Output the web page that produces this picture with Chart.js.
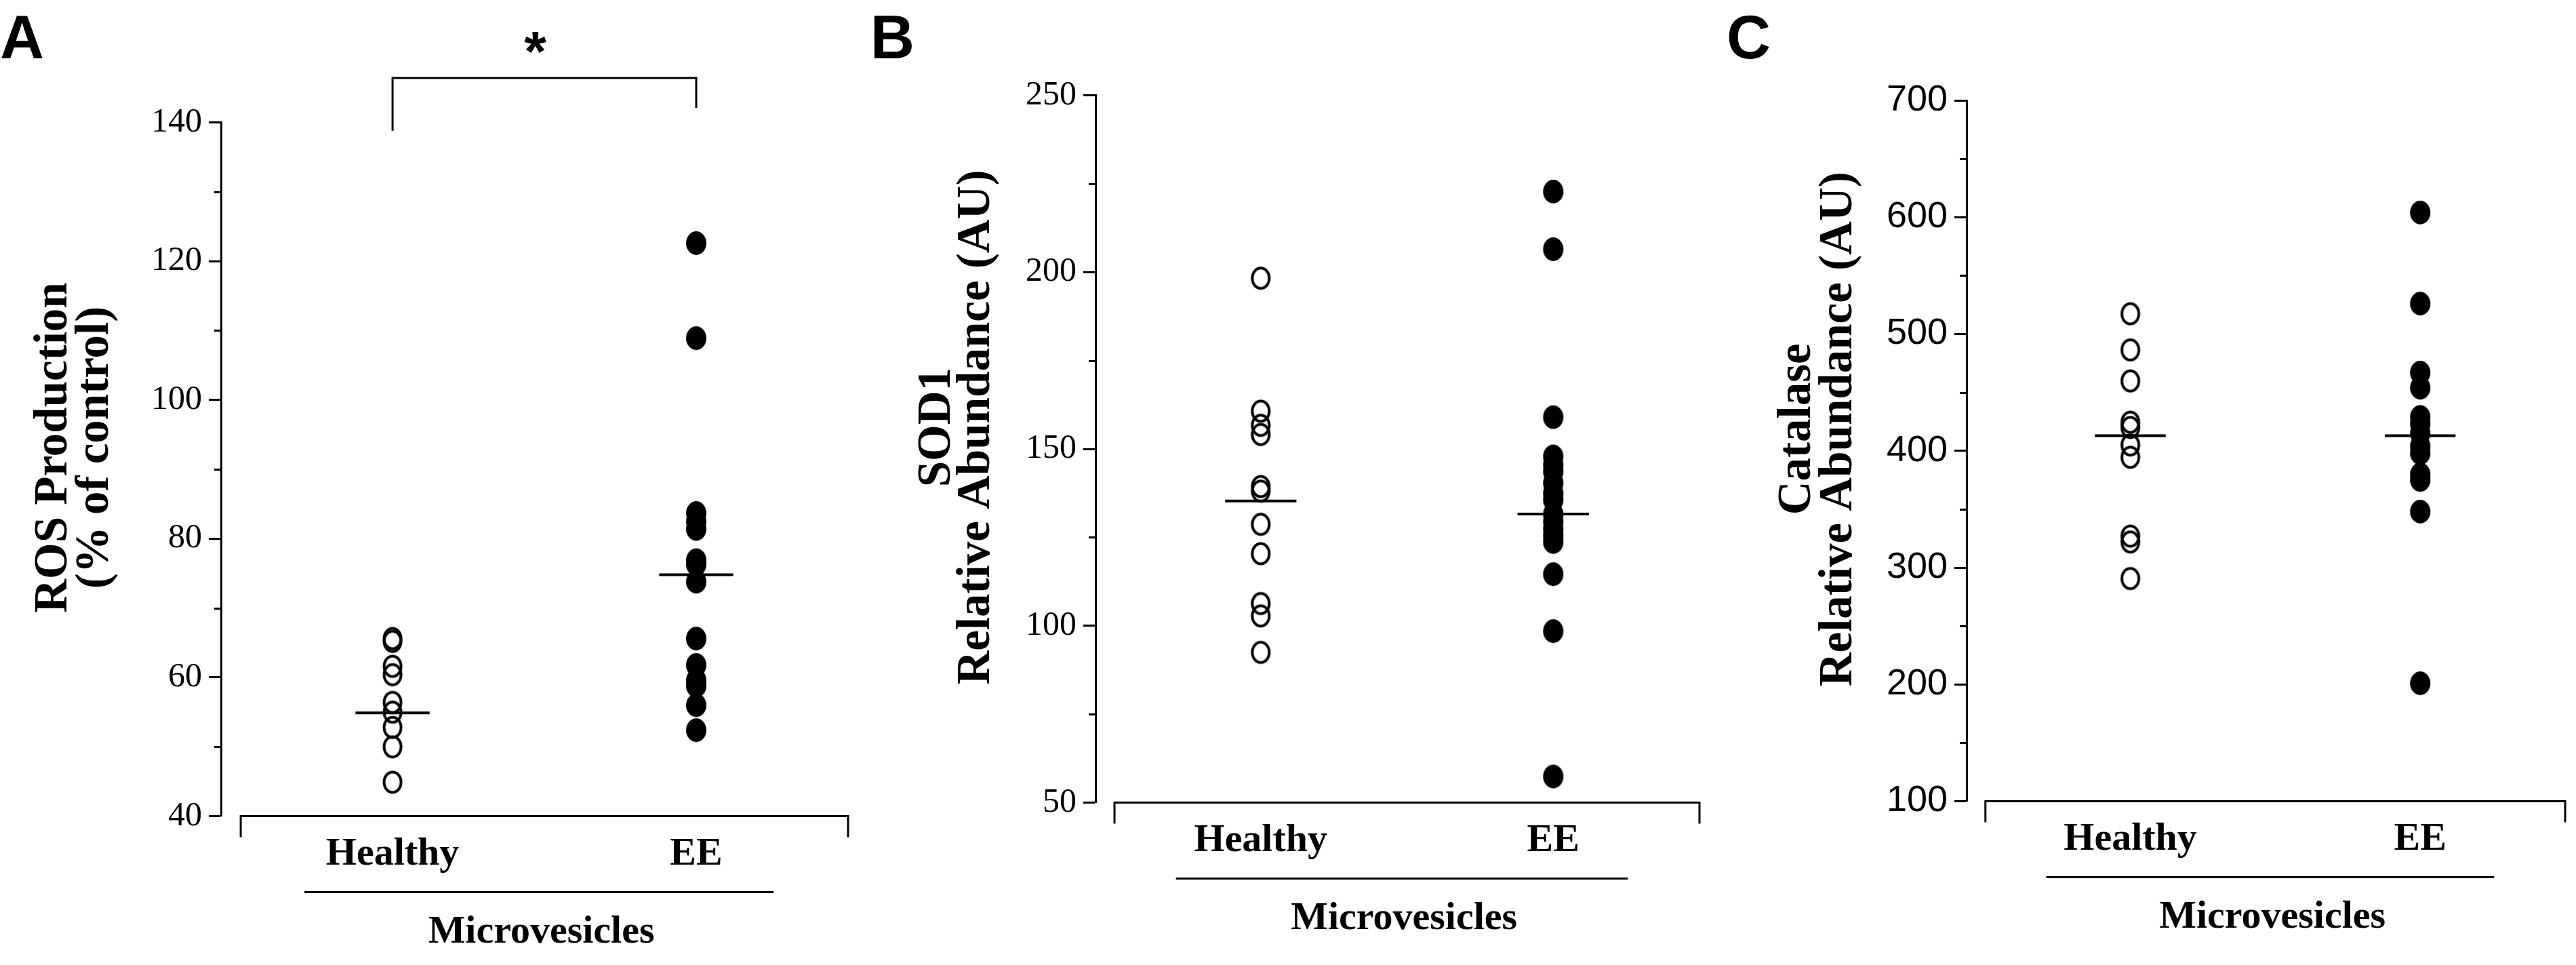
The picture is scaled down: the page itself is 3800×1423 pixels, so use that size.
<!DOCTYPE html>
<html><head><meta charset="utf-8">
<script src="https://cdn.jsdelivr.net/npm/chart.js@4.4.1/dist/chart.umd.min.js"></script>
<style>
html,body{margin:0;padding:0;background:#fff;}
body{width:3800px;height:1423px;position:relative;overflow:hidden;}
.panel{position:absolute;top:0;height:1423px;}
</style></head><body>
<div class="panel" style="left:0;width:1270px"><canvas id="cA"></canvas></div>
<div class="panel" style="left:1270px;width:1260px"><canvas id="cB"></canvas></div>
<div class="panel" style="left:2530px;width:1270px"><canvas id="cC"></canvas></div>
<script>
// ---------- data ----------
const groups = ['Healthy', 'EE'];
const xTitle = 'Microvesicles';

const rosHealthy = [65.6, 65.2, 61.6, 60.4, 56.4, 55.0, 52.8, 50.0, 44.9];
const rosEE = [122.6, 108.9, 83.7, 82.5, 81.4, 76.9, 76.3, 73.8, 65.6, 61.8, 59.6, 58.8, 56.0, 52.4];
const rosMean = [54.9, 74.8];
const rosTicks = [40, 60, 80, 100, 120, 140];
const rosMinor = [50, 70, 90, 110, 130];
const rosTitle = ['ROS Production', '(% of control)'];

const sodHealthy = [198.3, 160.7, 156.7, 154.1, 139.4, 138.1, 128.7, 120.4, 106.3, 102.8, 92.5];
const sodEE = [222.8, 206.5, 159.0, 147.9, 145.5, 143.6, 140.4, 137.5, 135.6, 131.6, 129.5, 127.4, 125.5, 123.7, 114.6, 98.5, 57.4];
const sodMean = [135.3, 131.6];
const sodTicks = [50, 100, 150, 200, 250];
const sodMinor = [75, 125, 175, 225];
const sodTitle = ['SOD1', 'Relative Abundance (AU)'];

const catHealthy = [517.3, 486.4, 459.8, 424.5, 420.0, 405.0, 394.5, 327.0, 322.0, 290.7];
const catEE = [604, 526, 467, 454, 429, 423, 415, 404, 398, 380, 375, 348, 201];
const catMean = [413, 413];
const catTicks = [100, 200, 300, 400, 500, 600, 700];
const catMinor = [150, 250, 350, 450, 550, 650];
const catTitle = ['Catalase', 'Relative Abundance (AU)'];

// ---------- marks ----------
function ellipseMark(filled) {
  const c = document.createElement('canvas');
  c.width = 32; c.height = 37;
  const g = c.getContext('2d');
  g.beginPath();
  if (filled) {
    g.ellipse(16, 18.5, 15, 17.5, 0, 0, Math.PI * 2);
    g.fillStyle = '#000'; g.fill();
  } else {
    g.ellipse(16, 18.5, 12.5, 15, 0, 0, Math.PI * 2);
    g.lineWidth = 4; g.strokeStyle = '#000'; g.stroke();
  }
  return c;
}
const openMark = ellipseMark(false);
const fullMark = ellipseMark(true);

// ---------- decorations plugin ----------
const deco = {
  id: 'deco',
  afterDraw(chart, args, o) {
    const ctx = chart.ctx, xs = chart.scales.x, ys = chart.scales.y, ca = chart.chartArea;
    ctx.save();
    ctx.strokeStyle = '#000'; ctx.fillStyle = '#000'; ctx.lineWidth = 3; ctx.lineCap = 'butt';
    // minor ticks
    o.minor.forEach(v => {
      const py = Math.round(ys.getPixelForValue(v)) + 0.5;
      ctx.beginPath(); ctx.moveTo(ca.left - 10, py); ctx.lineTo(ca.left, py); ctx.stroke();
    });
    // x bracket
    const yb = ca.bottom;
    const x0 = xs.getPixelForValue(0.5), x1 = xs.getPixelForValue(2.5);
    ctx.beginPath();
    ctx.moveTo(x0, yb + 31); ctx.lineTo(x0, yb); ctx.lineTo(x1, yb); ctx.lineTo(x1, yb + 31);
    ctx.stroke();
    // underline
    ctx.beginPath();
    ctx.moveTo(xs.getPixelForValue(0.71), yb + 112); ctx.lineTo(xs.getPixelForValue(2.255), yb + 112);
    ctx.stroke();
    // x title
    ctx.font = 'bold 58px "Liberation Serif"';
    ctx.textAlign = 'center'; ctx.textBaseline = 'middle';
    ctx.fillText(xTitle, xs.getPixelForValue(1.49), yb + 171);
    // y title
    ctx.font = 'bold 69px "Liberation Serif"';
    const cy = (ca.top + ca.bottom) / 2 - 32;
    o.title.forEach((t, i) => {
      ctx.save();
      ctx.translate(o.titleX[i] - o.left, cy);
      ctx.rotate(-Math.PI / 2);
      ctx.fillText(t, 0, 0);
      ctx.restore();
    });
    // panel letter
    ctx.font = 'bold 90px "Liberation Sans"';
    ctx.textAlign = 'left'; ctx.textBaseline = 'alphabetic';
    ctx.fillText(o.letter, o.letterX - o.left, 86);
    // significance
    if (o.sig) {
      const s = o.sig;
      const ya = ys.getPixelForValue(s.top);
      ctx.beginPath();
      ctx.moveTo(xs.getPixelForValue(1), ys.getPixelForValue(s.leftEnd));
      ctx.lineTo(xs.getPixelForValue(1), ya);
      ctx.lineTo(xs.getPixelForValue(2), ya);
      ctx.lineTo(xs.getPixelForValue(2), ys.getPixelForValue(s.rightEnd));
      ctx.stroke();
      ctx.font = 'bold 84px "Liberation Sans"';
      ctx.textAlign = 'center'; ctx.textBaseline = 'alphabetic';
      ctx.fillText(s.label, xs.getPixelForValue(1.47), 105);
    }
    ctx.restore();
  }
};

function makePanel(p) {
  const datasets = [
    { data: [{x: 1 - 0.122, y: p.mean[0]}, {x: 1 + 0.122, y: p.mean[0]}], showLine: true,
      borderColor: '#000', borderWidth: 4, pointRadius: 0, order: 0 },
    { data: [{x: 2 - 0.122, y: p.mean[1]}, {x: 2 + 0.122, y: p.mean[1]}], showLine: true,
      borderColor: '#000', borderWidth: 4, pointRadius: 0, order: 0 },
    { data: p.healthy.map(v => ({x: 1, y: v})), pointStyle: openMark, pointRadius: 15, order: 1 },
    { data: p.ee.map(v => ({x: 2, y: v})), pointStyle: fullMark, pointRadius: 15, order: 1 }
  ];
  new Chart(document.getElementById(p.id), {
    type: 'scatter',
    data: { datasets },
    options: {
      responsive: true, maintainAspectRatio: false, animation: false,
      layout: { padding: { left: 0, top: p.top, right: p.width - (p.right - p.left), bottom: 0 } },
      plugins: {
        legend: { display: false }, tooltip: { enabled: false },
        deco: { minor: p.minor, title: p.title, titleX: p.titleX, left: p.left,
                letter: p.letter, letterX: p.letterX, sig: p.sig || null }
      },
      scales: {
        x: {
          type: 'linear', min: 0.435, max: 2.5,
          afterBuildTicks: s => { s.ticks = [{value: 1}, {value: 2}]; },
          afterFit: s => { s.height = 1423 - p.bottom; },
          grid: { display: false, drawTicks: false },
          border: { display: false },
          ticks: { callback: v => groups[v - 1], color: '#000', padding: 22, maxRotation: 0,
                   font: { family: 'Liberation Serif', weight: 'bold', size: 58, lineHeight: 1.2 } }
        },
        y: {
          type: 'linear', min: p.ticks[0], max: p.ticks[p.ticks.length - 1],
          afterBuildTicks: s => { s.ticks = p.ticks.map(v => ({value: v})); },
          afterFit: s => { s.width = p.axisX - p.left; },
          grid: { drawOnChartArea: false, drawTicks: true, tickLength: 18, tickWidth: 3, tickColor: '#000' },
          border: { display: true, color: '#000', width: 3 },
          ticks: { color: '#000', padding: 10, font: p.tickFont }
        }
      }
    },
    plugins: [deco]
  });
}

makePanel({ id: 'cA', left: 0, width: 1270, axisX: 326, right: 1251, top: 180.5, bottom: 1203.6,
  healthy: rosHealthy, ee: rosEE, mean: rosMean, ticks: rosTicks, minor: rosMinor,
  title: rosTitle, titleX: [80, 141], letter: 'A', letterX: 0,
  tickFont: { family: 'Liberation Serif', size: 50 },
  sig: { top: 146.4, leftEnd: 138.8, rightEnd: 142.1, label: '*' } });

makePanel({ id: 'cB', left: 1270, width: 1260, axisX: 1616, right: 2507, top: 140.6, bottom: 1183.6,
  healthy: sodHealthy, ee: sodEE, mean: sodMean, ticks: sodTicks, minor: sodMinor,
  title: sodTitle, titleX: [1383, 1441], letter: 'B', letterX: 1284,
  tickFont: { family: 'Liberation Serif', size: 50 } });

makePanel({ id: 'cC', left: 2530, width: 1270, axisX: 2901, right: 3797, top: 148, bottom: 1181.6,
  healthy: catHealthy, ee: catEE, mean: catMean, ticks: catTicks, minor: catMinor,
  title: catTitle, titleX: [2652, 2713], letter: 'C', letterX: 2547,
  tickFont: { family: 'Liberation Sans', size: 54 } });
</script>
</body></html>
